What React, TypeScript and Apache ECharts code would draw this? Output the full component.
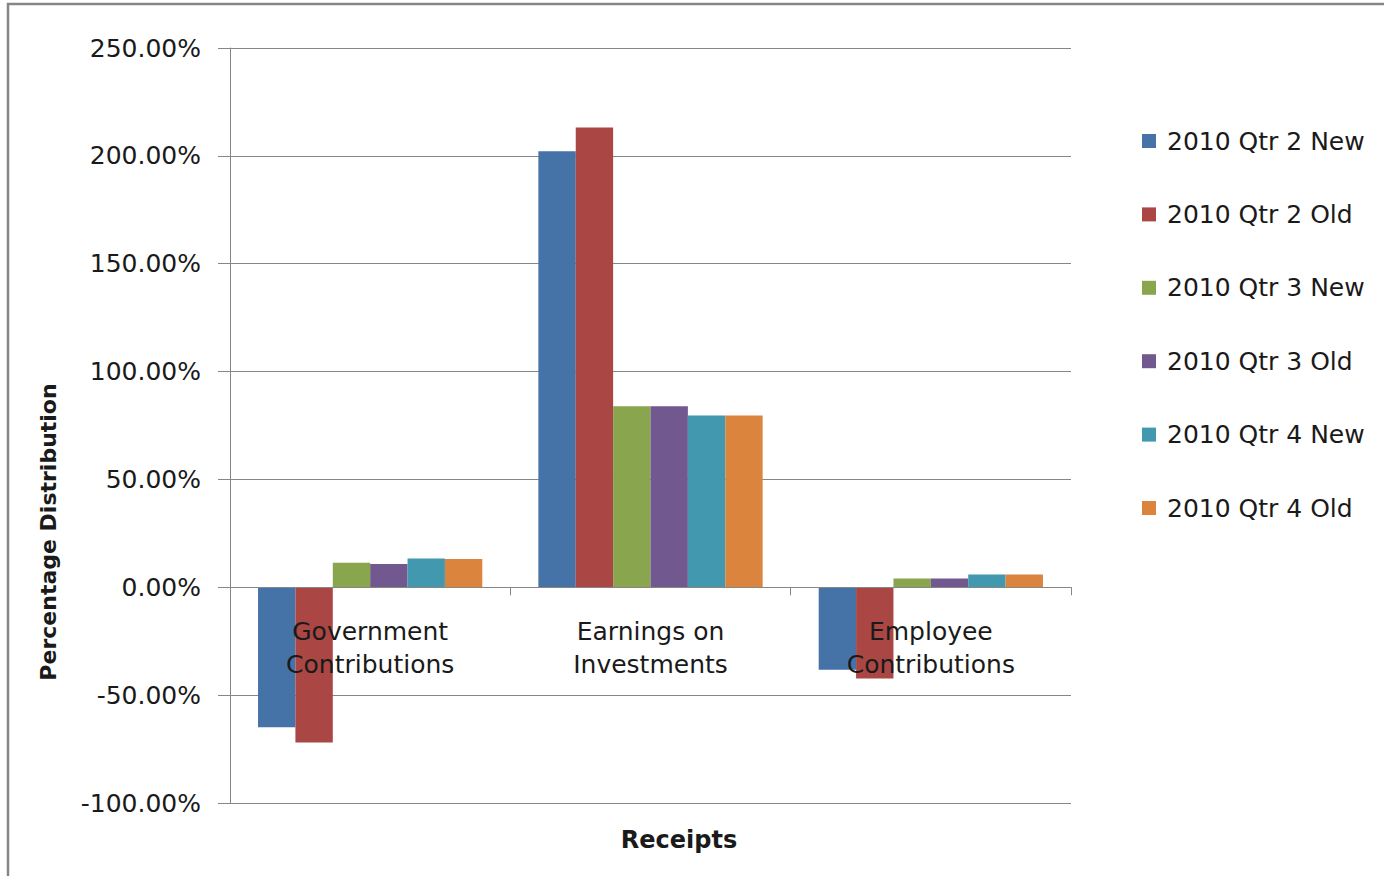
import React, { useEffect, useRef } from "react";
import * as echarts from "echarts";

const categories = ["Government\nContributions", "Earnings on\nInvestments", "Employee\nContributions"];
const seriesNames = [
  "2010 Qtr 2 New",
  "2010 Qtr 2 Old",
  "2010 Qtr 3 New",
  "2010 Qtr 3 Old",
  "2010 Qtr 4 New",
  "2010 Qtr 4 Old",
];
const q2New = [-64.9, 202.1, -38.2];
const q2Old = [-71.9, 213.1, -42.3];
const q3New = [11.4, 83.9, 4.1];
const q3Old = [10.8, 83.9, 4.1];
const q4New = [13.3, 79.6, 5.9];
const q4Old = [13.1, 79.6, 5.9];
const seriesValues = [q2New, q2Old, q3New, q3Old, q4New, q4Old];
const colors = ["#4572A7", "#AA4643", "#89A54E", "#71588F", "#4198AF", "#DB843D"];

const Y_MIN = -100;
const Y_MAX = 250;
const Y_STEP = 50;

const FONT = "DejaVu Sans";
const GRAY = "#868686";
const TEXT = "#1a1a1a";

const W = 1384;
const H = 876;
const GRID_TOP = 48;
const GRID_BOTTOM = 73;
const PLOT_H = H - GRID_TOP - GRID_BOTTOM;
// move the category axis (line, ticks, labels) up to the zero value line
const ZERO_OFFSET = -(PLOT_H * (0 - Y_MIN)) / (Y_MAX - Y_MIN);

export default function App() {
  const ref = useRef<HTMLDivElement>(null);
  useEffect(() => {
    if (!ref.current) return;
    const chart = echarts.init(ref.current, null, { renderer: "svg" });
    chart.setOption({
      animation: false,
      backgroundColor: "#ffffff",
      color: colors,
      textStyle: { fontFamily: FONT },
      grid: {
        left: 230,
        right: 313,
        top: GRID_TOP,
        bottom: GRID_BOTTOM,
        containLabel: false,
        outerBoundsMode: "none",
      },
      legend: {
        orient: "vertical",
        left: 1137,
        top: 121,
        itemWidth: 14,
        itemHeight: 14,
        itemGap: 43.4,
        icon: "rect",
        textStyle: { fontFamily: FONT, fontSize: 25, color: TEXT, lineHeight: 30, padding: [0, 0, 0, 6] },
        data: seriesNames,
      },
      xAxis: {
        type: "category",
        data: categories,
        z: 10,
        offset: ZERO_OFFSET,
        axisLine: { show: true, onZero: false, lineStyle: { color: GRAY, width: 1 } },
        axisTick: { show: true, length: 8, interval: 0, alignWithLabel: false, lineStyle: { color: GRAY } },
        axisLabel: {
          interval: 0,
          margin: 28,
          fontFamily: FONT,
          fontSize: 25,
          lineHeight: 33,
          color: TEXT,
        },
        splitLine: { show: false },
      },
      yAxis: {
        type: "value",
        min: Y_MIN,
        max: Y_MAX,
        interval: Y_STEP,
        axisLine: { show: true, lineStyle: { color: GRAY, width: 1 } },
        axisTick: { show: true, length: 12, lineStyle: { color: GRAY } },
        axisLabel: {
          margin: 29,
          fontFamily: FONT,
          fontSize: 25,
          color: TEXT,
          formatter: (v: number) => v.toFixed(2) + "%",
        },
        splitLine: { show: true, lineStyle: { color: GRAY, width: 1 } },
      },
      series: seriesNames.map((name, i) => ({
        name,
        type: "bar",
        data: seriesValues[i],
        barGap: "0%",
        barCategoryGap: "20%",
        itemStyle: { color: colors[i] },
      })),
      graphic: [
        {
          type: "rect",
          shape: { x: 8, y: 4, width: 1420, height: 920 },
          style: { fill: "none", stroke: GRAY, lineWidth: 2.5 },
          silent: true,
        },
        {
          type: "text",
          x: 48,
          y: 532,
          rotation: Math.PI / 2,
          style: {
            text: "Percentage Distribution",
            align: "center",
            verticalAlign: "middle",
            fontFamily: FONT,
            fontWeight: "bold",
            fontSize: 22,
            fill: TEXT,
          },
        },
        {
          type: "text",
          x: 679,
          y: 840,
          style: {
            text: "Receipts",
            align: "center",
            verticalAlign: "middle",
            fontFamily: FONT,
            fontWeight: "bold",
            fontSize: 24,
            fill: TEXT,
          },
        },
      ],
    });
    return () => chart.dispose();
  }, []);
  return (
    <div
      ref={ref}
      style={{ position: "absolute", left: 0, top: 0, width: W, height: H, background: "#fff" }}
    />
  );
}
